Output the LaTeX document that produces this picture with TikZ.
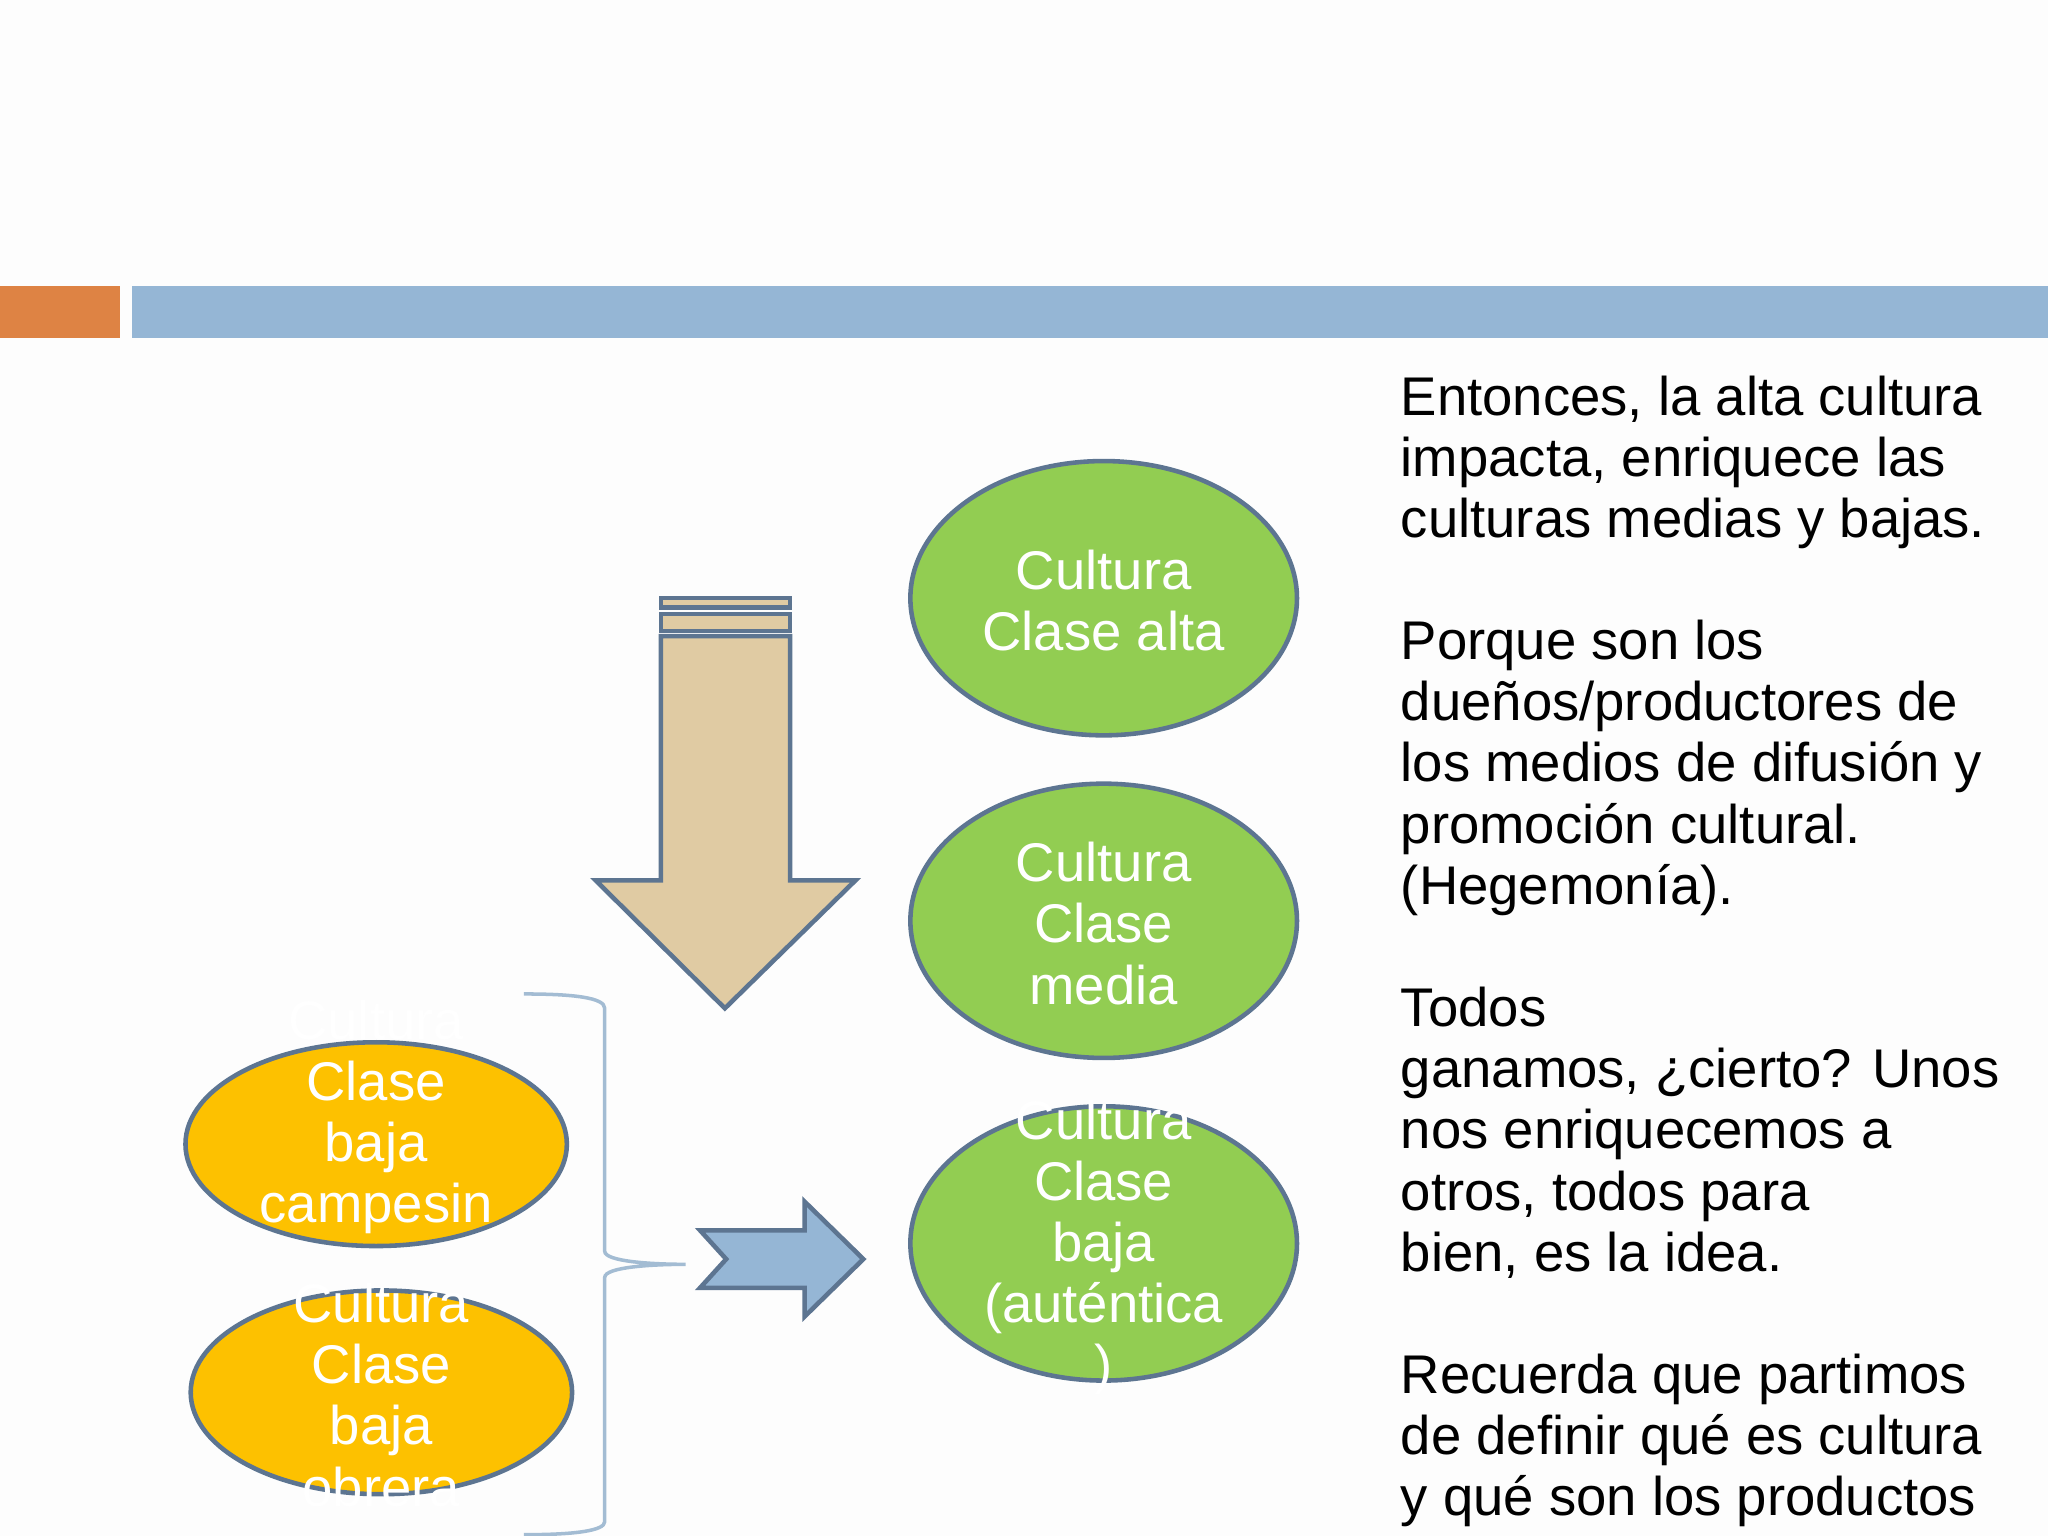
\documentclass[tikz,border=0pt]{standalone}
\usepackage{fontspec}
\setmainfont{Liberation Sans}
\usetikzlibrary{shapes.geometric}
\definecolor{bgc}{HTML}{FDFDFD}
\definecolor{orng}{HTML}{DE8344}
\definecolor{blu}{HTML}{95B6D5}
\definecolor{grn}{HTML}{92CD52}
\definecolor{yel}{HTML}{FDC100}
\definecolor{edge}{HTML}{5D7591}
\definecolor{tan}{HTML}{E0CBA3}
\definecolor{brc}{HTML}{A3BCD3}
\begin{document}
\begin{tikzpicture}[x=0.01306cm,y=-0.01306cm,
  ell/.style={draw=edge,line width=1.3pt,ellipse,inner sep=0pt},
  etext/.style={text=white,align=center,font=\fontsize{15.5pt}{17.4pt}\selectfont},
  body/.style={align=left,font=\fontsize{15.5pt}{17.4pt}\selectfont,anchor=north west,inner sep=0pt}]
\path[fill=bgc,use as bounding box] (0,0) rectangle (1568,1176);
\fill[orng] (0,219) rectangle (92,259);
\fill[blu] (101,219) rectangle (1568,259);
% green ellipses
\fill[grn,draw=edge,line width=1.3pt] (845,458) ellipse [x radius=148,y radius=105];
\fill[grn,draw=edge,line width=1.3pt] (845,705) ellipse [x radius=148,y radius=105];
\fill[grn,draw=edge,line width=1.3pt] (845,952) ellipse [x radius=148,y radius=105];
\node[etext] (alta) at (845,460) {Cultura\\Clase alta};
\node[etext] (media) at (845,707) {Cultura\\Clase\\media};
\node[etext] (baja) at (845,955) {Cultura\\Clase\\baja\\(auténtica\\)};
% orange ellipses
\fill[yel,draw=edge,line width=1.3pt] (288,876) ellipse [x radius=146,y radius=78];
\fill[yel,draw=edge,line width=1.3pt] (292,1066) ellipse [x radius=146,y radius=78];
\node[etext] (camp) at (288,855) {Cultura\\Clase\\baja\\campesin};
\node[etext] (obr) at (292,1068) {Cultura\\Clase\\baja\\obrera};
% down arrow
\filldraw[fill=tan,draw=edge,line width=1.3pt] (506,458) rectangle (605,465);
\filldraw[fill=tan,draw=edge,line width=1.3pt] (506,470) rectangle (605,483);
\filldraw[fill=tan,draw=edge,line width=1.3pt] (506,487) -- (605,487) -- (605,674) -- (655,674) -- (555,772) -- (456,674) -- (506,674) -- cycle;
% right arrow
\filldraw[fill=blu,draw=edge,line width=1.3pt] (536,942) -- (616,942) -- (616,920) -- (661,964) -- (616,1008) -- (616,986) -- (536,986) -- (556,964) -- cycle;
% brace
\draw[brc,line width=1pt] (401,761) .. controls (440,761) and (463,764) .. (463,772) -- (463,958) .. controls (463,966) and (500,968) .. (525,968) .. controls (500,968) and (463,970) .. (463,978) -- (463,1165) .. controls (463,1172) and (440,1175) .. (401,1175);
% text
\node[body] (txt) at (1072,287) {Entonces, la alta cultura\\impacta, enriquece las\\culturas medias y bajas.\\[17.4pt]Porque son los\\dueños/productores de\\los medios de difusión y\\promoción cultural.\\(Hegemonía).\\[17.4pt]Todos\\ganamos, ¿cierto? Unos\\nos enriquecemos a\\otros, todos para\\bien, es la idea.\\[17.4pt]Recuerda que partimos\\de definir qué es cultura\\y qué son los productos};
\end{tikzpicture}
\end{document}
